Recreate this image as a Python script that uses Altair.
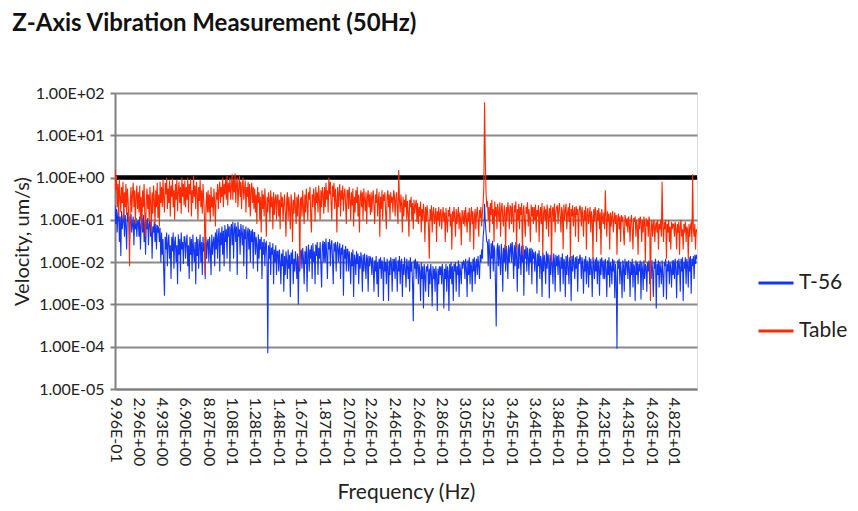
import altair as alt
import pandas as pd

TITLE = "Z-Axis Vibration Measurement (50Hz)"
X_TITLE = "Frequency (Hz)"
Y_TITLE = "Velocity, um/s)"
SERIES = ["T-56", "Table"]
COLORS = ["#1436f2", "#ff2a00"]

# frequency bins of the spectrum (Hz)
FREQ_START = 0.996
FREQ_STEP = 0.06147

X_TICKS = [0.996, 2.96, 4.93, 6.90, 8.87, 10.8, 12.8, 14.8, 16.7, 18.7, 20.7, 22.6,
           24.6, 26.6, 28.6, 30.5, 32.5, 34.5, 36.4, 38.4, 40.4, 42.3, 44.3, 46.3, 48.2]
X_LABELS = ["9.96E-01", "2.96E+00", "4.93E+00", "6.90E+00", "8.87E+00", "1.08E+01",
            "1.28E+01", "1.48E+01", "1.67E+01", "1.87E+01", "2.07E+01", "2.26E+01",
            "2.46E+01", "2.66E+01", "2.86E+01", "3.05E+01", "3.25E+01", "3.45E+01",
            "3.64E+01", "3.84E+01", "4.04E+01", "4.23E+01", "4.43E+01", "4.63E+01",
            "4.82E+01"]
Y_TICKS = [1e-5, 1e-4, 1e-3, 1e-2, 1e-1, 1e0, 1e1, 1e2]
Y_LABELS = ["1.00E-05", "1.00E-04", "1.00E-03", "1.00E-02", "1.00E-01",
            "1.00E+00", "1.00E+01", "1.00E+02"]
REFERENCE_LEVEL = [1.0]

# T-56 velocity (um/s) (one row per axis-label interval)
T56 = [
    .22, .08, .18, .05, .14, .2, .03, .12, .014, .16, .06, .1, .18, .04, .13, .07, .02, .15, .09, .12, .035, .1, .14, .05, .08, .12, .025, .1, .06, .11, .04, .09,
    .1, .04, .12, .02, .08, .11, .05, .13, .03, .09, .015, .1, .06, .11, .025, .08, .1, .04, .09, .012, .07, .05, .09, .03, .08, .02, .075, .05, .07, .03, .065, .01,
    .05, .015, .035, .006, .0016, .04, .02, .05, .008, .03, .045, .012, .025, .004, .04, .018, .05, .007, .03, .04, .01, .025, .003, .045, .015, .035, .006, .05, .02, .03, .009, .04,
    .04, .012, .03, .045, .008, .025, .004, .04, .015, .035, .006, .045, .02, .01, .03, .003, .04, .014, .035, .007, .025, .045, .01, .03, .005, .04, .018, .028, .004, .04, .012, .03,
    .035, .01, .04, .02, .005, .045, .015, .03, .04, .008, .05, .02, .06, .012, .04, .065, .006, .05, .025, .07, .015, .055, .008, .075, .03, .06, .012, .08, .04, .07, .006, .06,
    .08, .025, .09, .012, .06, .085, .03, .07, .005, .09, .04, .06, .015, .08, .05, .025, .075, .008, .06, .035, .07, .004, .05, .065, .02, .06, .01, .055, .03, .06, .007, .05,
    .05, .015, .04, .025, .006, .045, .012, .035, .02, .04, .004, .03, .015, .035, .008, .028, .03, .01, .00007, .025, .012, .03, .005, .022, .015, .028, .003, .02, .01, .025, .005, .018,
    .018, .006, .02, .01, .003, .016, .008, .02, .002, .014, .005, .018, .011, .004, .02, .007, .015, .0015, .017, .009, .02, .003, .012, .006, .018, .01, .004, .016, .001, .014, .006, .018,
    .02, .007, .022, .012, .003, .018, .009, .024, .002, .016, .026, .006, .02, .012, .025, .004, .028, .01, .018, .003, .026, .014, .03, .005, .022, .012, .03, .008, .0025, .025, .032, .01,
    .03, .01, .036, .015, .004, .03, .02, .035, .008, .025, .033, .012, .003, .028, .018, .03, .006, .024, .03, .01, .02, .028, .004, .022, .015, .026, .0016, .02, .012, .024, .006, .02,
    .02, .006, .018, .01, .003, .017, .008, .02, .0015, .015, .012, .005, .018, .009, .016, .003, .014, .007, .017, .011, .002, .015, .006, .016, .009, .004, .015, .012, .002, .014, .008, .013,
    .012, .005, .013, .008, .002, .011, .006, .014, .003, .01, .0015, .012, .007, .013, .004, .011, .009, .0012, .013, .006, .01, .003, .012, .008, .0012, .011, .005, .013, .009, .002, .012, .006,
    .012, .004, .013, .008, .002, .011, .006, .014, .003, .01, .012, .0015, .009, .005, .013, .007, .0025, .012, .008, .004, .011, .002, .013, .006, .01, .003, .0004, .011, .007, .012, .004, .01,
    .01, .003, .009, .006, .0012, .01, .004, .008, .0008, .009, .005, .002, .008, .006, .009, .0015, .007, .003, .009, .005, .0009, .008, .004, .007, .002, .008, .005, .0007, .007, .003, .008, .005,
    .008, .003, .009, .005, .0008, .007, .004, .009, .002, .008, .006, .0007, .009, .004, .01, .003, .008, .0012, .009, .006, .01, .002, .008, .005, .011, .0015, .009, .006, .003, .01, .007, .011,
    .01, .004, .012, .007, .0015, .011, .005, .013, .003, .01, .008, .002, .012, .006, .013, .003, .009, .012, .005, .014, .008, .004, .015, .01, .02, .012, .04, .06, .24, .09, .05, .03,
    .03, .008, .035, .015, .004, .028, .012, .032, .006, .025, .018, .003, .0003, .02, .028, .008, .025, .012, .005, .027, .015, .002, .022, .01, .026, .006, .024, .014, .004, .025, .01, .02,
    .028, .01, .03, .015, .004, .025, .008, .03, .012, .002, .026, .007, .028, .015, .005, .024, .01, .025, .0016, .02, .012, .024, .006, .022, .014, .005, .021, .01, .022, .003, .02, .012,
    .017, .006, .018, .01, .0018, .016, .008, .019, .004, .014, .011, .0015, .017, .006, .015, .009, .003, .018, .007, .016, .012, .0014, .015, .005, .017, .009, .003, .016, .011, .002, .015, .008,
    .014, .005, .015, .009, .002, .013, .007, .016, .003, .012, .01, .0015, .014, .005, .015, .008, .003, .013, .011, .0012, .014, .006, .015, .009, .004, .013, .007, .014, .002, .012, .009, .015,
    .012, .004, .013, .008, .0018, .012, .006, .014, .003, .011, .009, .0025, .013, .005, .012, .007, .0015, .013, .009, .004, .012, .006, .013, .003, .011, .008, .0016, .012, .005, .013, .009, .004,
    .011, .004, .012, .007, .0015, .011, .005, .013, .0025, .01, .008, .003, .012, .006, .011, .0014, .009, .004, .00009, .011, .007, .012, .003, .01, .006, .0014, .011, .008, .002, .012, .005, .01,
    .01, .004, .011, .007, .0015, .01, .005, .012, .0025, .009, .008, .0012, .011, .005, .01, .003, .009, .006, .011, .0013, .01, .007, .0022, .011, .004, .009, .008, .002, .01, .006, .011, .003,
    .01, .004, .011, .006, .0015, .01, .007, .012, .0008, .009, .005, .011, .0025, .01, .007, .003, .011, .005, .0015, .01, .008, .012, .0013, .009, .006, .011, .003, .01, .007, .0025, .011, .005,
    .011, .004, .012, .007, .0014, .011, .005, .012, .008, .002, .012, .006, .013, .0012, .01, .007, .013, .003, .012, .009, .0025, .013, .006, .014, .0018, .012, .008, .014, .004, .015, .009, .015,
    .012,
]

# Table velocity (um/s) (one row per axis-label interval)
TABLE = [
    1.6, .5, 1.1, .2, .7, .12, .9, .35, .15, .6, .25, .8, .1, .45, .2, .7, .13, .55, .3, .09, .008, .25, .6, .15, .4, .75, .2, .5, .08, .35, .65, .18,
    .45, .15, .65, .1, .35, .06, .5, .2, .7, .12, .04, .3, .55, .18, .4, .09, .6, .25, .05, .45, .14, .65, .3, .08, .5, .2, .75, .11, .4, .07, .8, .25,
    .6, .2, .9, .3, .15, .75, .4, 1.0, .18, .55, .25, .85, .12, .65, .35, .95, .2, .5, .1, .7, .3, .9, .16, .45, .8, .25, .6, .14, 1.0, .35, .7, .22,
    .85, .2, .6, .3, 1.0, .15, .7, .4, .9, .12, .5, .25, 1.1, .35, .65, .18, .8, .45, .1, .6, .28, .9, .2, .5, .14, .7, .3, .11, .005, .2, .45, .15,
    .5, .15, .4, .09, .6, .2, .35, .12, .55, .25, .07, .45, .3, .7, .18, .5, .8, .25, .6, .35, 1.0, .2, .7, .4, .9, .3, 1.1, .22, .75, .45, 1.0, .3,
    .6, 1.2, .3, .9, .45, 1.25, .25, .7, 1.0, .2, .55, 1.1, .35, .8, .18, .65, 1.0, .3, .5, .85, .15, .6, .35, .8, .2, .7, .12, .5, .75, .25, .6, .18,
    .55, .15, .4, .08, .6, .25, .45, .1, .35, .05, .5, .18, .4, .12, .55, .22, .04, .35, .15, .45, .3, .09, .5, .2, .35, .06, .45, .13, .3, .4, .1, .35,
    .4, .12, .3, .06, .45, .2, .35, .09, .25, .4, .15, .04, .3, .45, .1, .35, .18, .06, .4, .25, .03, .3, .14, .45, .2, .08, .35, .12, .4, .22, .007, .3,
    .35, .12, .5, .2, .08, .4, .15, .55, .25, .1, .45, .3, .6, .13, .05, .4, .2, .55, .35, .09, .6, .25, .45, .15, .65, .3, .1, .5, .2, .6, .4, .14,
    .6, .2, .75, .3, .5, .15, 1.0, .4, .8, .25, .1, .65, .35, .75, .18, .55, .28, .05, .6, .2, .45, .7, .12, .5, .3, .65, .16, .4, .55, .22, .08, .5,
    .5, .18, .6, .3, .1, .45, .22, .55, .07, .35, .15, .5, .25, .6, .12, .4, .05, .3, .5, .2, .45, .1, .55, .3, .16, .45, .08, .35, .5, .2, .4, .13,
    .45, .15, .35, .5, .2, .08, .4, .25, .55, .12, .3, .45, .04, .35, .18, .5, .1, .4, .28, .45, .14, .06, .35, .5, .2, .4, .1, .45, .25, .35, .15, .5,
    .4, .12, .3, .45, .18, .08, 1.5, .3, .15, .4, .22, .05, .35, .12, .3, .2, .4, .1, .28, .15, .04, .3, .2, .35, .1, .25, .06, .3, .14, .22, .3, .09,
    .25, .08, .2, .12, .27, .05, .18, .1, .24, .15, .03, .2, .09, .22, .13, .06, .012, .18, .1, .22, .05, .15, .2, .08, .12, .19, .03, .16, .1, .2, .07, .15,
    .18, .06, .12, .2, .09, .15, .03, .19, .1, .05, .17, .12, .2, .07, .14, .02, .16, .09, .2, .11, .04, .18, .08, .13, .2, .06, .15, .1, .025, .17, .12, .08,
    .17, .07, .2, .11, .05, .15, .09, .19, .03, .13, .2, .08, .16, .02, .12, .18, .06, .14, .2, .1, .04, .17, .11, .2, .07, .15, .25, .6, 60.0, 3.0, .45, .2,
    .28, .1, .2, .05, .25, .13, .3, .08, .18, .03, .27, .12, .2, .06, .24, .15, .09, .26, .04, .18, .25, .11, .07, .22, .14, .02, .2, .1, .26, .16, .06, .22,
    .2, .08, .25, .12, .05, .22, .15, .27, .02, .18, .1, .24, .06, .2, .13, .25, .015, .16, .22, .09, .04, .2, .14, .26, .07, .18, .11, .03, .23, .12, .2, .08,
    .2, .1, .23, .05, .17, .12, .22, .03, .15, .2, .08, .25, .015, .14, .21, .1, .18, .06, .23, .13, .04, .19, .11, .22, .01, .16, .2, .09, .24, .05, .15, .2,
    .22, .08, .18, .25, .12, .05, .2, .15, .02, .23, .1, .17, .24, .06, .14, .2, .09, .25, .012, .18, .12, .22, .07, .16, .2, .04, .21, .13, .18, .03, .15, .22,
    .18, .07, .2, .12, .04, .17, .1, .21, .02, .15, .19, .08, .13, .2, .05, .16, .11, .012, .18, .09, .2, .14, .03, .17, .1, .19, .06, .15, .015, .18, .12, .08,
    .15, .06, .5, .12, .04, .16, .09, .14, .02, .15, .07, .12, .16, .05, .1, .15, .08, .13, .015, .11, .14, .06, .12, .03, .13, .09, .12, .05, .025, .13, .1, .07,
    .11, .05, .12, .08, .03, .1, .13, .06, .02, .11, .09, .12, .04, .1, .07, .015, .11, .06, .12, .09, .03, .1, .05, .12, .08, .01, .11, .07, .1, .04, .12, .09,
    .0012, .06, .1, .04, .08, .1, .03, .07, .09, .05, .1, .02, .08, .06, .1, .04, .8, .07, .03, .09, .06, .1, .012, .08, .05, .1, .03, .07, .02, .09, .06, .08,
    .08, .04, .09, .06, .02, .08, .05, .09, .015, .07, .1, .04, .06, .02, .08, .05, .09, .03, .07, .06, .012, .08, .04, .07, .09, .03, 1.2, .06, .04, .08, .02, .06,
    .05,
]

assert len(T56) == len(TABLE), (len(T56), len(TABLE))
N = len(T56)
FREQ = [round(FREQ_START + i * FREQ_STEP, 4) for i in range(N)]

df_t56 = pd.DataFrame({"freq": FREQ, "velocity": T56, "series": SERIES[0]})
df_table = pd.DataFrame({"freq": FREQ, "velocity": TABLE, "series": SERIES[1]})
df_ref = pd.DataFrame({"level": REFERENCE_LEVEL})

FONT = "Lato"
x_expr = "[" + ",".join("'%s'" % s for s in X_LABELS) + "][indexof([" + \
    ",".join(repr(v) for v in X_TICKS) + "], datum.value)]"
y_expr = "[" + ",".join("'%s'" % s for s in Y_LABELS) + "][indexof([" + \
    ",".join(repr(v) for v in Y_TICKS) + "], datum.value)]"

y_scale = alt.Scale(type="log", domain=[1e-5, 1e2], nice=False)

x_enc = alt.X(
    "freq:Q",
    scale=alt.Scale(domain=[FREQ[0], FREQ[-1]], nice=False, zero=False),
    axis=alt.Axis(
        values=X_TICKS, labelExpr=x_expr, labelAngle=90, labelAlign="left",
        labelBaseline="middle", labelFontSize=16, labelFont=FONT, labelColor="#222",
        labelPadding=8, labelOverlap=False, ticks=False, grid=False,
        domainColor="#808080", domainWidth=2,
        title=X_TITLE, titleFont=FONT, titleFontSize=21, titleFontWeight="normal",
        titleColor="#222", titlePadding=16,
    ),
)
y_enc = alt.Y(
    "velocity:Q",
    scale=y_scale,
    axis=alt.Axis(
        values=Y_TICKS, labelExpr=y_expr, labelFontSize=16, labelFont=FONT,
        labelColor="#222", labelPadding=6, tickSize=5, tickColor="#808080",
        tickWidth=2, domainColor="#808080", domainWidth=2,
        grid=True, gridColor="#8a8a8a", gridWidth=2,
        title=Y_TITLE, titleFont=FONT, titleFontSize=20, titleFontWeight="normal",
        titleColor="#222", titlePadding=3,
    ),
)
color_enc = alt.Color(
    "series:N",
    scale=alt.Scale(domain=SERIES, range=COLORS),
    legend=alt.Legend(
        title=None, orient="none", legendX=642, legendY=171, symbolType="stroke",
        symbolSize=1225, symbolStrokeWidth=3, labelFont=FONT, labelFontSize=21,
        labelColor="#222", rowPadding=19, padding=0, labelOffset=4,
    ),
)

ref_rule = alt.Chart(df_ref).mark_rule(color="black", strokeWidth=4.5).encode(
    y=alt.Y("level:Q", scale=y_scale)
)
line_t56 = alt.Chart(df_t56).mark_line(strokeWidth=1.1, clip=True).encode(
    x=x_enc, y=y_enc, color=color_enc,
)
line_table = alt.Chart(df_table).mark_line(strokeWidth=1.1, clip=True).encode(
    x=x_enc, y=y_enc, color=color_enc,
)

chart = alt.layer(ref_rule, line_t56, line_table).properties(
    width=582, height=296,
    padding={"left": 4, "top": 4, "right": 0, "bottom": 0},
    title=alt.Title(TITLE, anchor="start", frame="bounds", font=FONT, fontSize=24,
                    fontWeight="bold", color="#111", offset=49),
).configure_view(strokeWidth=0).configure(background="white")

chart.save("out.html", embed_options={"renderer": "svg", "actions": False})
